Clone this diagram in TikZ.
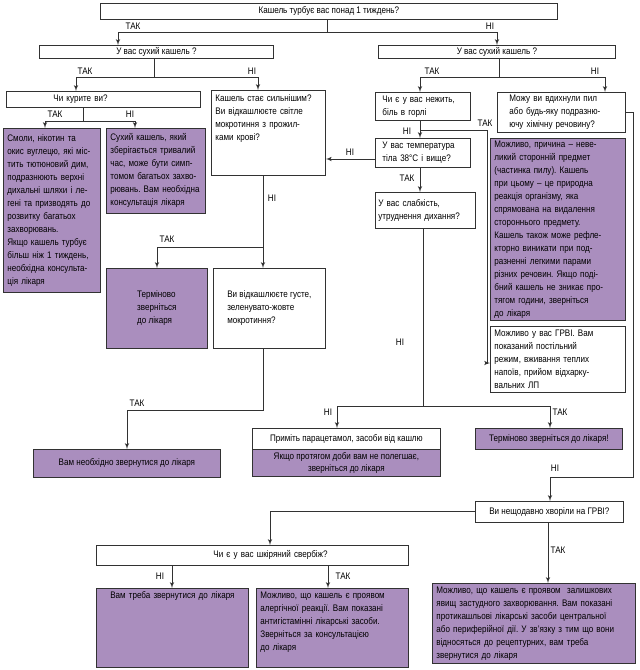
\documentclass[tikz,border=0pt]{standalone}
\usepackage{fontspec}
\setmainfont{Liberation Sans}[FakeStretch=0.85]
\usetikzlibrary{arrows,positioning}
\definecolor{lilac}{RGB}{170,142,190}
\definecolor{ink}{RGB}{50,50,50}
\newcommand{\flowfont}{\fontsize{9.5}{13}\selectfont}
\frenchspacing
\tikzset{
    box/.style={draw=ink, line width=0.8pt, anchor=north west, inner xsep=4pt, inner ysep=2pt, font=\flowfont},
    note/.style={box, fill=lilac},
    answer/.style={font=\flowfont, inner sep=0pt}
}
\begin{document}
\begin{tikzpicture}[x=1pt, y=-1pt, >=latex', line width=1pt, draw=ink]
    \useasboundingbox (0,0) rectangle (640,670);
    % questions and answers
    \node[box, minimum width=457, minimum height=16](q_week) at (100,3) {Кашель турбує вас понад 1 тиждень?};
    \node[box, minimum width=234, minimum height=13](dry_left) at (39,45) {У вас сухий кашель ?};
    \node[box, minimum width=237, minimum height=13](dry_right) at (378,45) {У вас сухий кашель ?};
    \node[box, minimum width=194, minimum height=16, text width=186pt, align=left](q_smoke) at (6,91) {\hspace*{43pt}Чи курите ви?};
    \node[note, minimum width=97, minimum height=164, text width=89pt, align=left](tar_info) at (3,128) {Смоли, нікотин та\\ окис вуглецю, які міс-\\ тить тютюновий дим,\\ подразнюють верхні\\ дихальні шляхи і ле-\\ гені та призводять до\\ розвитку багатьох\\ захворювань.\\ Якщо кашель турбує\\ більш ніж 1 тиждень,\\ необхідна консульта-\\ ція лікаря};
    \node[note, minimum width=99, minimum height=85, text width=91pt, align=left](dry_info) at (106,128) {Сухий кашель, який\\ зберігається тривалий\\ час, може бути симп-\\ томом багатьох захво-\\ рювань. Вам необхідна\\ консультація лікаря};
    \node[box, minimum width=114, minimum height=85, text width=106pt, align=left, text height=8pt, text depth=71pt](q_stronger) at (211,90) {Кашель стає сильнішим?\\ Ви відкашлюєте світле\\ мокротиння з прожил-\\ ками крові?};
    \node[box, minimum width=95, minimum height=28, inner xsep=7pt, text width=81pt, align=left](q_cold) at (375,92) {Чи є у вас нежить,\\ біль в горлі};
    \node[box, minimum width=128, minimum height=40, inner xsep=12pt, text width=104pt, align=left](q_dust) at (497,92) {Можу ви вдихнули пил\\ або будь-яку подразню-\\ ючу хімічну речовину?};
    \node[box, minimum width=95, minimum height=29, inner xsep=7pt, text width=81pt, align=left](q_fever) at (375,138) {У вас температура\\ тіла 38°С і вище?};
    \node[box, minimum width=100, minimum height=36, inner xsep=3pt, text width=94pt, align=left](q_weak) at (375,192) {У вас слабкість,\\ утруднення дихання?};
    \node[note, minimum width=135, minimum height=182, text width=127pt, align=left](dust_info) at (490,138) {Можливо, причина – неве-\\ ликий сторонній предмет\\ (частинка пилу). Кашель\\ при цьому – це природна\\ реакція організму, яка\\ спрямована на видалення\\ стороннього предмету.\\ Кашель також може рефле-\\ кторно виникати при под-\\ разненні легкими парами\\ різних речовин. Якщо поді-\\ бний кашель не зникає про-\\ тягом години, зверніться\\ до лікаря};
    \node[box, minimum width=135, minimum height=66, text width=127pt, align=left](flu_info) at (490,326) {Можливо у вас ГРВІ. Вам\\ показаний постільний\\ режим, вживання теплих\\ напоїв, прийом відхарку-\\ вальних ЛП};
    \node[note, minimum width=101, minimum height=80, align=left](urgent_left) at (106,268) {Терміново\\ зверніться\\ до лікаря};
    \node[box, minimum width=112, minimum height=80, align=left](q_sputum) at (213,268) {Ви відкашлюєте густе,\\ зеленувато-жовте\\ мокротиння?};
    \node[note, minimum width=187, minimum height=28](doctor_left) at (33,449) {Вам необхідно звернутися до лікаря};
    \node[box, minimum width=188, minimum height=21](paracetamol) at (252,428) {Приміть парацетамол, засоби від кашлю};
    \node[note, minimum width=188, minimum height=27, align=center, font=\fontsize{9.5}{11.5}\selectfont](paracetamol_note) at (252,449) {Якщо протягом доби вам не полегшає,\\ зверніться до лікаря};
    \node[note, minimum width=147, minimum height=21](urgent_right) at (475,428) {Терміново зверніться до лікаря!};
    \node[box, minimum width=148, minimum height=21](q_recent) at (475,501) {Ви нещодавно хворіли на ГРВІ?};
    \node[box, minimum width=312, minimum height=20, text width=304pt, align=left](q_itch) at (96,545) {\hspace*{113pt}Чи є у вас шкіряний свербіж?};
    \node[note, minimum width=152, minimum height=79, text width=144pt, align=center, text height=8pt, text depth=67pt](doctor_bottom) at (96,588) {Вам треба звернутися до лікаря};
    \node[note, minimum width=152, minimum height=79, text width=144pt, align=left, text height=8pt, text depth=67pt](allergy_info) at (256,588) {Можливо, що кашель є проявом\\ алергічної реакції. Вам показані\\ антигістамінні лікарські засоби.\\ Зверніться за консультацією\\ до лікаря};
    \node[note, minimum width=203, minimum height=80, text width=195pt, align=left](residual_info) at (432,583) {Можливо, що кашель є проявом\ \ залишкових\\ явищ застудного захворювання. Вам показані\\ протикашльові лікарські засоби центральної\\ або периферійної дії. У зв'язку з тим що вони\\ відносяться до рецептурних, вам треба\\ звернутися до лікаря};

    % junctions
    \coordinate (split_week) at (327,32);
    \coordinate (split_dry_left) at (154,77);
    \coordinate (split_dry_right) at (499,77);
    \coordinate (split_smoke) at (83,121);
    \coordinate (split_cold) at (420,130);
    \coordinate (turn_cold) at (487,363);
    \coordinate (split_stronger) at (263,247);
    \coordinate (turn_sputum) at (263,410);
    \coordinate (split_weak) at (423,406);
    \coordinate (turn_dust) at (633,477);

    % connectors
    \draw (q_week.south -| split_week) -- (split_week);
    \draw[->] (split_week) -| ([xshift=79pt]dry_left.north west);
    \draw[->] (split_week) -| ([xshift=119pt]dry_right.north west);
    \draw (dry_left.south -| split_dry_left) -- (split_dry_left);
    \draw[->] (split_dry_left) -| ([xshift=70pt]q_smoke.north west);
    \draw[->] (split_dry_left) -| ([xshift=47pt]q_stronger.north west);
    \draw (dry_right.south -| split_dry_right) -- (split_dry_right);
    \draw[->] (split_dry_right) -| ([xshift=45pt]q_cold.north west);
    \draw[->] (split_dry_right) -| ([xshift=108pt]q_dust.north west);
    \draw (q_smoke.south -| split_smoke) -- (split_smoke);
    \draw[->] (split_smoke) -| ([xshift=42pt]tar_info.north west);
    \draw[->] (split_smoke) -| ([xshift=29pt]dry_info.north west);
    \draw[->] ([xshift=45pt]q_cold.south west) -- ([xshift=45pt]q_fever.north west);
    \draw[->] (split_cold) -| (turn_cold) -- (turn_cold -| flu_info.west);
    \draw[->] (q_fever.west |- 0,159) -- (q_stronger.east |- 0,159);
    \draw[->] ([xshift=45pt]q_fever.south west) -- ([xshift=45pt]q_weak.north west);
    \draw[->] ([xshift=52pt]q_stronger.south west) -- ([xshift=50pt]q_sputum.north west);
    \draw[->] (split_stronger) -| ([xshift=51pt]urgent_left.north west);
    \draw[->] ([xshift=50pt]q_sputum.south west) -- (turn_sputum) -| ([xshift=94pt]doctor_left.north west);
    \draw ([xshift=48pt]q_weak.south west) -- (split_weak);
    \draw[->] (split_weak) -| ([xshift=85pt]paracetamol.north west);
    \draw[->] (split_weak) -| ([xshift=75pt]urgent_right.north west);
    \draw[->] (q_dust.east) -| (turn_dust) -| ([xshift=75pt]q_recent.north west);
    \draw[->] (q_recent.west) -| ([xshift=174pt]q_itch.north west);
    \draw[->] ([xshift=73pt]q_recent.south west) -- ([xshift=116pt]residual_info.north west);
    \draw[->] ([xshift=76pt]q_itch.south west) -- ([xshift=76pt]doctor_bottom.north west);
    \draw[->] ([xshift=232pt]q_itch.south west) -- ([xshift=72pt]allergy_info.north west);

    % answers
    \node[answer](yes_week) at (133,26) {ТАК};
    \node[answer](no_week) at (490,26) {НІ};
    \node[answer](yes_dry_left) at (85,71) {ТАК};
    \node[answer](no_dry_left) at (252,71) {НІ};
    \node[answer](yes_dry_right) at (432,71) {ТАК};
    \node[answer](no_dry_right) at (595,71) {НІ};
    \node[answer](yes_smoke) at (55,114) {ТАК};
    \node[answer](no_smoke) at (130,114) {НІ};
    \node[answer](no_cold) at (407,131) {НІ};
    \node[answer](yes_cold) at (485,123) {ТАК};
    \node[answer](no_fever) at (350,152) {НІ};
    \node[answer](yes_fever) at (407,178) {ТАК};
    \node[answer](no_stronger) at (272,198) {НІ};
    \node[answer](yes_stronger) at (167,239) {ТАК};
    \node[answer](yes_sputum) at (137,403) {ТАК};
    \node[answer](no_weak_stem) at (400,342) {НІ};
    \node[answer](no_weak) at (328,412) {НІ};
    \node[answer](yes_weak) at (560,412) {ТАК};
    \node[answer](no_dust) at (555,468) {НІ};
    \node[answer](yes_recent) at (558,550) {ТАК};
    \node[answer](no_itch) at (160,576) {НІ};
    \node[answer](yes_itch) at (343,576) {ТАК};
\end{tikzpicture}
\end{document}
